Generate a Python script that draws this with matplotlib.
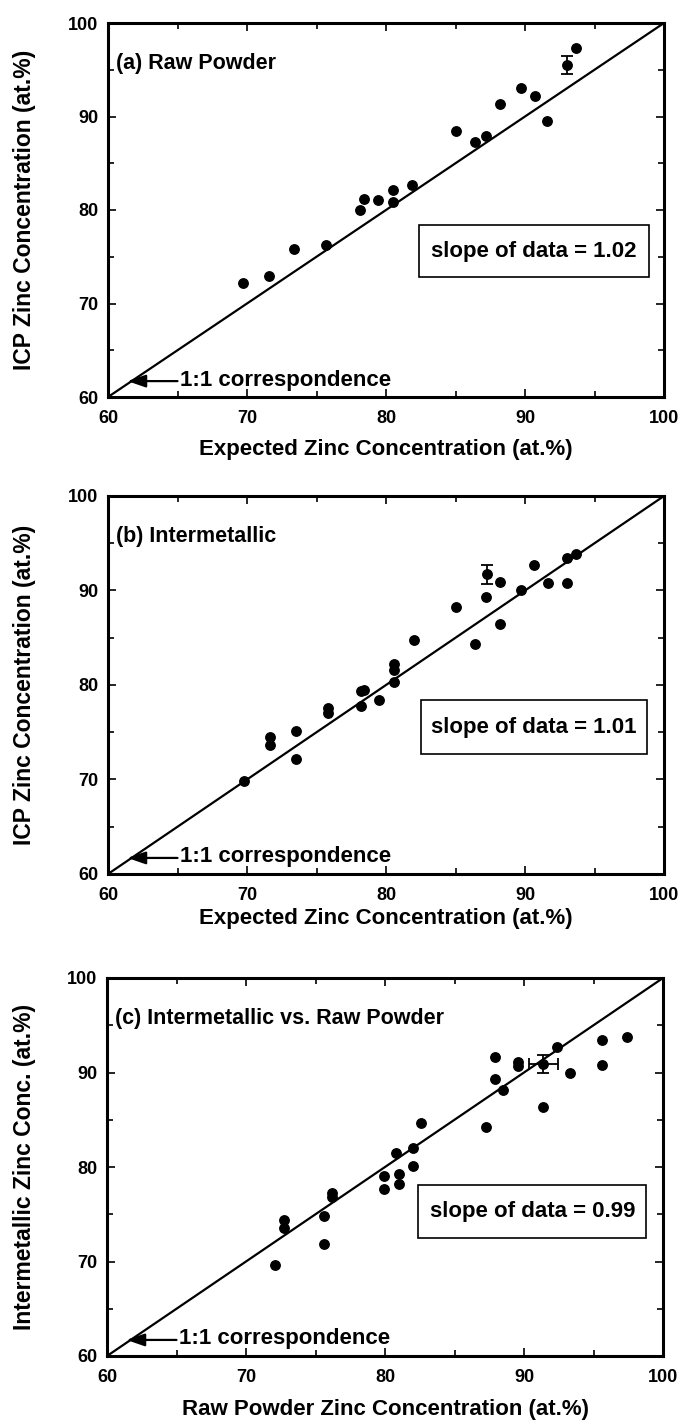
import matplotlib
matplotlib.use("Agg")
import matplotlib.pyplot as plt
from matplotlib.patches import Rectangle
from matplotlib.ticker import MultipleLocator

plt.rcParams['font.family'] = ['Liberation Sans', 'DejaVu Sans']

# ---------------- data ----------------
# (a) Raw Powder
a_expected = [69.7, 71.6, 73.4, 75.7, 78.1, 78.4, 79.4, 80.5, 80.5, 81.9,
              85.0, 86.4, 87.2, 88.2, 89.7, 90.7, 91.6, 93.7]
a_icp = [72.2, 72.9, 75.8, 76.3, 80.0, 81.2, 81.1, 82.1, 80.9, 82.7,
         88.5, 87.3, 87.9, 91.3, 93.1, 92.2, 89.5, 97.3]
a_err_x = [93.0]
a_err_y = [95.5]
a_err_yerr = [1.0]

# (b) Intermetallic
b_expected = [69.8, 71.65, 71.65, 73.5, 73.5, 75.8, 75.8, 78.2, 78.2, 78.4,
              79.5, 80.6, 80.6, 80.6, 82.0, 85.0, 86.4, 87.2, 88.2, 88.2,
              89.7, 90.65, 91.65, 93.0, 93.0, 93.7]
b_icp = [69.8, 74.55, 73.7, 75.1, 72.2, 77.6, 77.0, 77.8, 79.4, 79.5,
         78.4, 82.2, 81.6, 80.3, 84.8, 88.3, 84.3, 89.3, 90.9, 86.5,
         90.1, 92.7, 90.8, 93.4, 90.8, 93.9]
b_err_x = [87.3]
b_err_y = [91.7]
b_err_yerr = [1.0]

# (c) Intermetallic vs. Raw Powder
c_raw = [72.1, 72.7, 72.7, 75.6, 75.6, 76.2, 76.2, 79.9, 79.9, 80.8,
         81.0, 81.0, 82.0, 82.0, 82.6, 87.3, 87.9, 87.9, 88.5, 89.6,
         89.6, 91.4, 92.4, 93.3, 95.6, 95.6, 97.4]
c_inter = [69.6, 74.4, 73.5, 71.9, 74.8, 77.3, 76.8, 79.1, 77.65, 81.5,
           79.3, 78.25, 82.0, 80.1, 84.7, 84.2, 91.6, 89.3, 88.1, 91.1,
           90.7, 86.4, 92.7, 89.9, 93.4, 90.8, 93.8]
c_err_x = [91.4]
c_err_y = [90.9]
c_err_xerr = [1.05]
c_err_yerr = [0.93]

ticks = [60, 70, 80, 90, 100]
tick_labels = ['60', '70', '80', '90', '100']
slopes = ['1.02', '1.01', '0.99']
titles = ['(a) Raw Powder', '(b) Intermetallic', '(c) Intermetallic vs. Raw Powder']
xlabels = ['Expected Zinc Concentration (at.%)',
           'Expected Zinc Concentration (at.%)',
           'Raw Powder Zinc Concentration (at.%)']
ylabels = ['ICP Zinc Concentration (at.%)',
           'ICP Zinc Concentration (at.%)',
           'Intermetallic Zinc Conc. (at.%)']

W, H = 678, 1424
fig = plt.figure(figsize=(W / 100, H / 100), dpi=100)

# axes boxes in pixels: (left, top, right, bottom)
boxes = [(108, 23, 664, 397), (108, 496, 664, 874), (107, 978, 663, 1356)]
xlabel_top_px = [439, 908, 1399]

datasets = [
    (a_expected, a_icp, a_err_x, a_err_y, None, a_err_yerr),
    (b_expected, b_icp, b_err_x, b_err_y, None, b_err_yerr),
    (c_raw, c_inter, c_err_x, c_err_y, c_err_xerr, c_err_yerr),
]
slope_boxes = [(82.4, 72.8, 98.9, 78.4), (82.5, 72.7, 98.8, 78.4), (82.4, 72.5, 98.8, 78.1)]

FS = 16
for i, (l, t, r, b) in enumerate(boxes):
    ax = fig.add_axes([l / W, (H - b) / H, (r - l) / W, (b - t) / H])
    xs, ys, ex, ey, exx, eyy = datasets[i]
    ax.set_xlim(60, 100)
    ax.set_ylim(60, 100)
    ax.plot([60, 100], [60, 100], color='black', lw=1.6, zorder=2)
    ax.plot(xs, ys, 'o', color='black', ms=6.8, zorder=3)
    ax.errorbar(ex, ey, xerr=exx, yerr=eyy, fmt='o', color='black', ms=6.8,
                capsize=4.5, elinewidth=1.3, capthick=1.3, zorder=3)

    for s in ax.spines.values():
        s.set_linewidth(2.2)
    ax.set_xticks(ticks)
    ax.set_xticklabels(tick_labels)
    ax.set_yticks(ticks)
    ax.set_yticklabels(tick_labels)
    ax.xaxis.set_minor_locator(MultipleLocator(5))
    ax.yaxis.set_minor_locator(MultipleLocator(5))
    ax.tick_params(which='both', direction='in', top=True, right=True,
                   width=1.2)
    ax.tick_params(which='major', length=6, labelsize=13)
    ax.tick_params(axis='x', which='major', pad=9.5)
    ax.tick_params(axis='y', which='major', pad=7)
    ax.tick_params(which='minor', length=4)
    for lab in ax.get_xticklabels() + ax.get_yticklabels():
        lab.set_fontweight('bold')

    ax.set_xlabel(xlabels[i], fontsize=FS, fontweight='bold')
    ax.set_ylabel(ylabels[i], fontsize=FS + 0.5, fontweight='bold')
    ax.xaxis.set_label_coords(0.5, (b - xlabel_top_px[i]) / (b - t))
    ax.yaxis.set_label_coords((36 - l) / (r - l), 0.5)

    ax.text(60.6, 95.7, titles[i], fontsize=FS - 0.5, fontweight='bold',
            va='center', ha='left')

    # slope box
    x0, y0, x1, y1 = slope_boxes[i]
    ax.add_patch(Rectangle((x0, y0), x1 - x0, y1 - y0, fill=False,
                           edgecolor='black', lw=1.2, zorder=4))
    ax.text((x0 + x1) / 2, (y0 + y1) / 2, 'slope of data = ' + slopes[i],
            fontsize=FS, fontweight='bold', ha='center', va='center', zorder=5)

    # 1:1 correspondence arrow
    ax.annotate('', xy=(61.4, 61.7), xytext=(65.0, 61.7),
                arrowprops=dict(arrowstyle='-|>,head_length=1.1,head_width=0.38',
                                color='black', lw=1.6, shrinkA=0, shrinkB=0))
    ax.text(65.2, 61.8, '1:1 correspondence', fontsize=FS, fontweight='bold',
            ha='left', va='center')

fig.savefig('out.png', dpi=100)
